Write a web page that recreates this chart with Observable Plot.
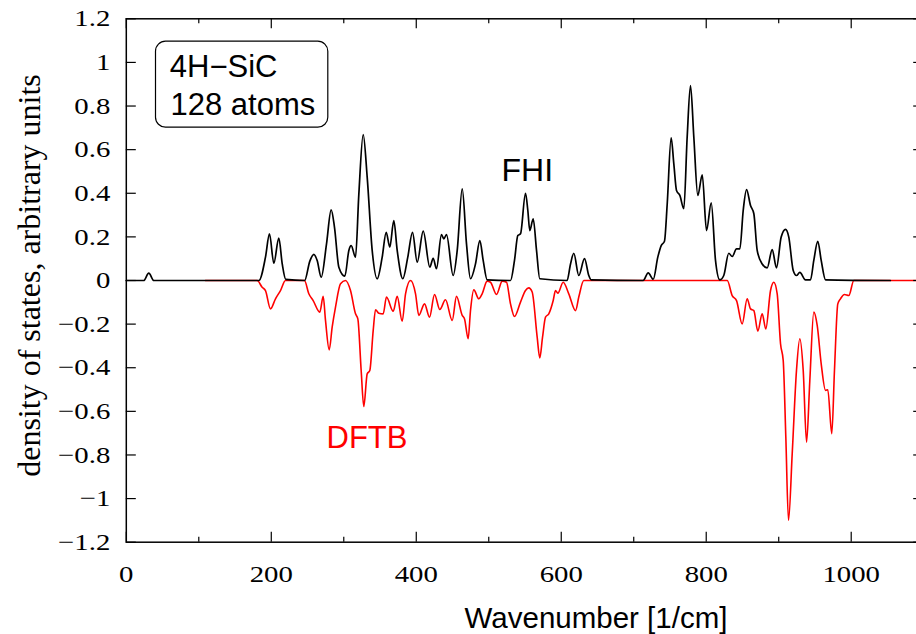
<!DOCTYPE html>
<html><head><meta charset="utf-8">
<script src="https://cdn.jsdelivr.net/npm/d3@7"></script>
<script src="https://cdn.jsdelivr.net/npm/@observablehq/plot@0.6"></script>
<style>html,body{margin:0;padding:0;background:#fff;overflow:hidden}</style>
</head><body><div id="chart"></div>
<script>
// FHI phonon DOS (black)
const fhiWavenumber = [0,24,31,38,183,192,197.5,203.5,210.4,215.1,220,246,253.2,258.7,263.3,268.9,276.2,282.6,287.2,293.2,301.5,307,310.2,316.2,320.8,326.8,332.3,339.2,346.1,353,358.5,363.5,369,373.7,381.4,388.3,394.8,401.3,409.6,418.7,423.3,427.9,434.8,438,441.7,450.9,456.5,463.4,469.3,474.8,481.7,487.7,492.3,497.8,530,535.5,540.1,543.8,550.7,553.9,556.6,561.3,565.9,570.4,608,612.8,617.3,624.2,632.1,638,641.3,713,720,726.9,733.2,737.9,742.4,746.2,751.6,755.3,759,763.6,769.1,773.7,778.3,782.9,788.4,794.5,800.4,806.9,812.8,818.7,824.2,831.1,835.8,841.8,846.4,851,855.6,861.1,865.7,870.3,877.2,884.1,891,896.9,903.4,909.4,913.9,920,924.5,929.1,936.9,943.8,948.4,953.9,958.6,964.6,1054];
const fhiDos = [0,0,0.034,0,0,0.107,0.214,0.079,0.194,0.076,0.005,0,0.089,0.12,0.092,0.015,0.168,0.324,0.244,0.061,0.02,0.138,0.16,0.107,0.397,0.669,0.474,0.138,0.008,0.107,0.221,0.153,0.275,0.138,0.008,0.107,0.221,0.084,0.226,0.061,0.102,0.054,0.21,0.191,0.21,0.023,0.138,0.42,0.168,0.008,0.076,0.183,0.092,0.003,0,0.092,0.206,0.214,0.40,0.321,0.229,0.283,0.138,0.008,0,0.076,0.125,0.023,0.1,0.023,0.003,0,0.035,0.006,0.107,0.16,0.18,0.352,0.654,0.535,0.413,0.39,0.329,0.657,0.894,0.657,0.39,0.485,0.229,0.356,0.092,0.003,0.023,0.125,0.11,0.145,0.145,0.321,0.417,0.344,0.306,0.138,0.076,0.058,0.142,0.058,0.199,0.234,0.199,0.046,0.023,0.037,0.003,0.003,0.092,0.18,0.092,0.003,0];

// DFTB phonon DOS (red, plotted negative)
const dftbWavenumber = [109,180.5,187.4,192,198.9,205.8,212.7,219.6,245.8,251.8,257.8,266.9,271.6,274.8,279.9,284,288.6,295.5,302.4,309.3,316.2,319.4,324,327.6,332.3,335.9,340.6,343.8,348.3,354.4,358.9,368.2,373.7,380.6,385.2,392.1,399,403.5,411.4,418.3,425.2,432.5,440.3,449.6,455.5,463.4,466.6,471.6,474.8,479.4,486.3,490.9,497.8,502.4,510.7,518.6,524.5,530,535.5,543.8,550.7,555.2,559.9,566.8,570.4,574.2,578.3,582.8,588.9,592.1,595.3,602.7,610.4,619.7,624.2,631.1,829,835.8,841.8,849.6,856.5,861.1,865.7,871.2,877.2,882.2,888.7,893.2,897.9,902.5,906.2,909.8,913.5,918.6,924.5,929.1,933.8,938.4,942.9,948.4,953.1,958.6,964.6,967.7,973.2,976.9,981.5,985.2,990.7,996.7,1003.6,1100];
const dftbDos = [0,0,-0.031,-0.046,-0.13,-0.084,-0.046,0,0,-0.061,-0.092,-0.145,-0.073,-0.183,-0.318,-0.214,-0.122,-0.015,0,-0.046,-0.153,-0.176,-0.413,-0.578,-0.428,-0.413,-0.229,-0.134,-0.15,-0.153,-0.076,-0.141,-0.073,-0.187,-0.061,0,-0.061,-0.16,-0.107,-0.168,-0.064,-0.133,-0.088,-0.183,-0.073,-0.16,-0.176,-0.267,-0.138,-0.043,-0.084,-0.061,-0.003,-0.008,-0.064,-0.003,-0.008,-0.107,-0.165,-0.099,-0.046,-0.034,-0.053,-0.26,-0.355,-0.26,-0.168,-0.153,-0.092,-0.046,-0.058,-0.008,-0.061,-0.138,-0.076,0,0,-0.069,-0.092,-0.199,-0.084,-0.13,-0.138,-0.232,-0.153,-0.222,-0.046,-0.008,-0.061,-0.29,-0.367,-0.718,-1.1,-0.795,-0.413,-0.267,-0.413,-0.741,-0.459,-0.145,-0.206,-0.382,-0.504,-0.501,-0.703,-0.413,-0.107,-0.084,-0.064,-0.069,0,0];

const xTickValues = [0,200,400,600,800,1000];
const xTickLabels = ["0","200","400","600","800","1000"];
const xMinorValues = [100,300,500,700,900,1100];
const yTickValues = [1.2,1,0.8,0.6,0.4,0.2,0,-0.2,-0.4,-0.6,-0.8,-1,-1.2];
const yTickLabels = ["1.2","1","0.8","0.6","0.4","0.2","0","\u22120.2","\u22120.4","\u22120.6","\u22120.8","\u22121","\u22121.2"];

const W = 916, H = 634, mL = 125.8, mR = -7.2, mT = 18.3, mB = 92.3;
const plotW = W - mL - mR, plotH = H - mT - mB;

const fhi = fhiWavenumber.map((x, i) => ({x, y: fhiDos[i]}));
const dftb = dftbWavenumber.map((x, i) => ({x, y: dftbDos[i]}));

const serif = "Liberation Serif";
const sans = "Liberation Sans";

const chart = Plot.plot({
  width: W, height: H,
  marginLeft: mL, marginRight: mR, marginTop: mT, marginBottom: mB,
  x: {domain: [0, 1100], axis: null},
  y: {domain: [-1.2, 1.2], axis: null},
  style: {background: "white", overflow: "hidden"},
  marks: [
    Plot.line(dftb, {x: "x", y: "y", stroke: "#ff0000", strokeWidth: 1.6, curve: "monotone-x"}),
    Plot.line(fhi, {x: "x", y: "y", stroke: "black", strokeWidth: 1.7, curve: "monotone-x"}),
    Plot.frame({stroke: "black", strokeWidth: 1.5}),
    // inward ticks
    Plot.ruleX(xTickValues, {x: d => d, insetTop: plotH - 10, stroke: "black", strokeWidth: 1.2}),
    Plot.ruleX(xMinorValues, {x: d => d, insetTop: plotH - 5, stroke: "black", strokeWidth: 1.2}),
    Plot.ruleX(xTickValues, {x: d => d, insetBottom: plotH - 10, stroke: "black", strokeWidth: 1.2}),
    Plot.ruleX(xMinorValues, {x: d => d, insetBottom: plotH - 5, stroke: "black", strokeWidth: 1.2}),
    Plot.ruleY(yTickValues, {y: d => d, insetRight: plotW - 10, stroke: "black", strokeWidth: 1.2}),
    Plot.ruleY(yTickValues, {y: d => d, insetLeft: plotW - 10, stroke: "black", strokeWidth: 1.2}),
    // tick labels
    Plot.text(xTickValues, {x: d => d, text: (d, i) => xTickLabels[i], frameAnchor: "bottom", dy: 32,
      lineAnchor: "middle", textAnchor: "middle", fontSize: 24, fontFamily: serif, fill: "black"}),
    Plot.text(yTickValues, {y: d => d, text: (d, i) => yTickLabels[i], frameAnchor: "left", dx: -16,
      lineAnchor: "middle", textAnchor: "end", fontSize: 24, fontFamily: serif, fill: "black"}),
    // axis titles
    Plot.text(["Wavenumber [1/cm]"], {text: d => d, frameAnchor: "bottom", dx: 71, dy: 76,
      lineAnchor: "middle", textAnchor: "middle", fontSize: 29.5, fontFamily: sans, fill: "black"}),
    Plot.text(["density of states, arbitrary units"], {text: d => d, frameAnchor: "left", dx: -97, dy: -5,
      rotate: -90, lineAnchor: "middle", textAnchor: "middle", fontSize: 32, fontFamily: serif, fill: "black"}),
    // annotation box
    Plot.frame({insetLeft: 155 - mL, insetTop: 40.7 - mT, insetRight: (W - mR) - 327.3, insetBottom: (H - mB) - 126.7,
      rx: 10, ry: 10, stroke: "black", strokeWidth: 1.2, fill: "white"}),
    Plot.text(["4H\u2212SiC"], {text: d => d, frameAnchor: "top-left", dx: 43.5, dy: 48.5,
      lineAnchor: "middle", textAnchor: "start", fontSize: 31, fontFamily: sans, fill: "black"}),
    Plot.text(["128 atoms"], {text: d => d, frameAnchor: "top-left", dx: 44.2, dy: 86.5,
      lineAnchor: "middle", textAnchor: "start", fontSize: 31, fontFamily: sans, fill: "black"}),
    Plot.text(["FHI"], {text: d => d, frameAnchor: "top-left", dx: 375.2, dy: 151.7,
      lineAnchor: "middle", textAnchor: "start", fontSize: 32, fontFamily: sans, fill: "black"}),
    Plot.text(["DFTB"], {text: d => d, frameAnchor: "top-left", dx: 200.2, dy: 419.5,
      lineAnchor: "middle", textAnchor: "start", fontSize: 31, fontFamily: sans, fill: "#ff0000"})
  ]
});

document.getElementById("chart").appendChild(chart);

// the reference's serif tick labels are somewhat wide: stretch them horizontally
// (only the horizontal position is moved into the transform; the em-based vertical offset is kept)
const tickLabelSet = new Set([...xTickLabels, ...yTickLabels]);
d3.select(chart).selectAll("text").each(function() {
  const t = d3.select(this);
  if (!tickLabelSet.has(t.text())) return;
  const xa = t.attr("x");
  const x = xa != null && !isNaN(+xa) ? +xa : 0;
  const tr = t.attr("transform") || "";
  t.attr("x", null).attr("transform", `${tr} translate(${x},0) scale(1.2,1)`);
});
</script>
</body></html>
